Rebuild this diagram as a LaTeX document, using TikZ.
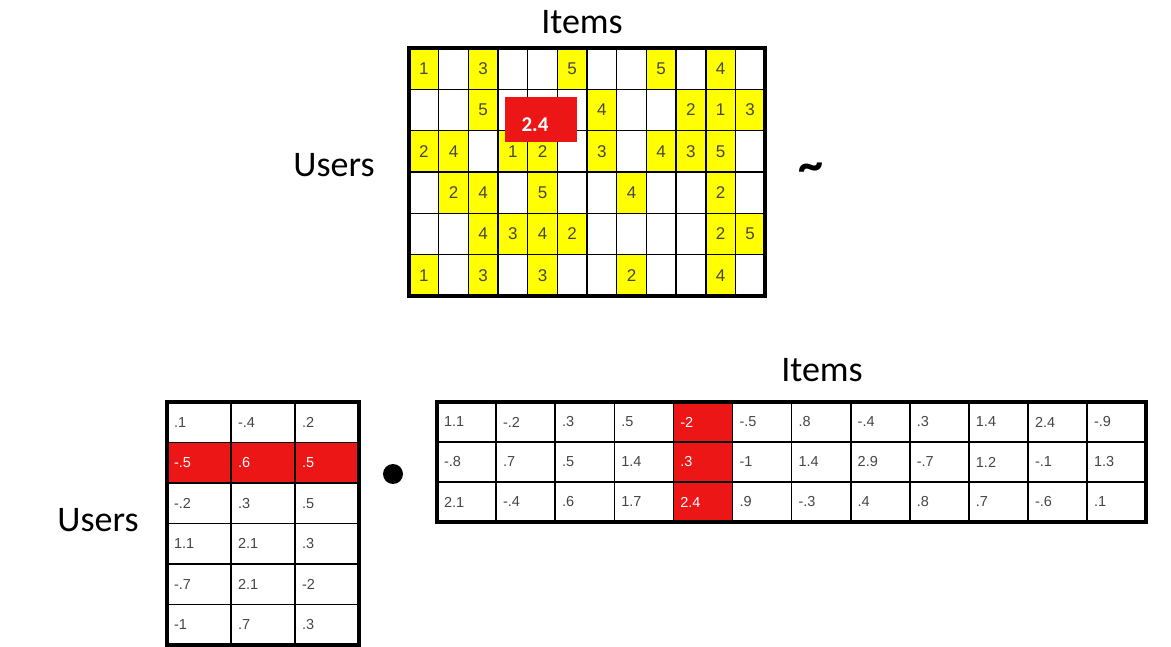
\documentclass[tikz,border=0pt]{standalone}
\usepackage{fontspec}
\setmainfont{Carlito}
\newfontfamily\arialfont{Liberation Sans}
\usetikzlibrary{positioning}
\definecolor{cellYellow}{RGB}{255,255,0}
\definecolor{cellRed}{RGB}{237,22,22}
\definecolor{numGray}{RGB}{70,70,70}
\tikzset{
    headText/.style={font=\fontsize{36}{40}\selectfont, inner sep=0pt},
    ratingCell/.style={rectangle, draw=black, line width=1.6pt, outer sep=0pt,
                  minimum width=29.67pt, minimum height=41.33pt, inner sep=0pt,
                  anchor=north west, fill=white,
                  font=\arialfont\fontsize{17}{20}\selectfont, text=numGray},
    ratingHit/.style={ratingCell, fill=cellYellow},
    predBox/.style={rectangle, fill=cellRed, minimum width=72pt, minimum height=45pt,
                  inner sep=0pt, text height=24pt, text depth=0pt, text=white,
                  font=\bfseries\fontsize{21}{24}\selectfont},
    factorCell/.style={rectangle, draw=black, line width=1.6pt, outer sep=0pt,
                  inner xsep=7pt, inner ysep=0pt, anchor=north west, align=left,
                  font=\arialfont\fontsize{14.5}{17}\selectfont},
    userCell/.style={factorCell, text width=50pt, minimum height=40.5pt},
    itemCell/.style={factorCell, text width=45.1pt, minimum height=40pt},
    frameBox/.style={draw=black, line width=4pt},
    dotSign/.style={circle, fill=black, minimum size=20pt, inner sep=0pt}
}

\begin{document}
\begin{tikzpicture}[x=1pt, y=-1pt]
  \useasboundingbox (0,0) rectangle (1171,647);

  % rating matrix
  \foreach \r in {1,...,6}
    \foreach \c in {1,...,12}
      \node[ratingCell] (T-\r-\c) at ({409+(\c-1)*29.67},{48+(\r-1)*41.33}) {};
  \foreach \r/\c/\v in {1/1/1, 1/3/3, 1/6/5, 1/9/5, 1/11/4,
                        2/3/5, 2/7/4, 2/10/2, 2/11/1, 2/12/3,
                        3/1/2, 3/2/4, 3/4/1, 3/5/2, 3/7/3, 3/9/4, 3/10/3, 3/11/5,
                        4/2/2, 4/3/4, 4/5/5, 4/8/4, 4/11/2,
                        5/3/4, 5/4/3, 5/5/4, 5/6/2, 5/11/2, 5/12/5,
                        6/1/1, 6/3/3, 6/5/3, 6/8/2, 6/11/4}
    \node[ratingHit] (Y-\r-\c) at (T-\r-\c.north west) {\v};
  \draw[frameBox] (T-1-1.north west) rectangle (T-6-12.south east);
  \node[predBox] (pred) at (541,119.5) {2.4\kern12pt};

  \node[headText] (itemsTop) at (582,22) {Items};
  \node[headText] (usersTop) at (334,165) {Users};
  \node[headText, font=\bfseries\fontsize{50}{50}\selectfont] (approx) at (811,172) {\textasciitilde};

  % user factors
  \foreach \vals [count=\r] in {{.1,-.4,.2},{-.5,.6,.5},{-.2,.3,.5},
                                {1.1,2.1,.3},{-.7,2.1,-2},{-1,.7,.3}}
    \foreach \v [count=\c] in \vals {
      \ifnum\r=2 \def\fillc{cellRed}\def\txtc{white}\else\def\fillc{white}\def\txtc{numGray}\fi
      \node[userCell, fill=\fillc, text=\txtc] (U-\r-\c)
        at ({167+(\c-1)*64},{402+(\r-1)*40.5}) {\v};
    }
  \draw[frameBox] (U-1-1.north west) rectangle (U-6-3.south east);

  % item factors
  \foreach \vals [count=\r] in {{1.1,-.2,.3,.5,-2,-.5,.8,-.4,.3,1.4,2.4,-.9},
                                {-.8,.7,.5,1.4,.3,-1,1.4,2.9,-.7,1.2,-.1,1.3},
                                {2.1,-.4,.6,1.7,2.4,.9,-.3,.4,.8,.7,-.6,.1}}
    \foreach \v [count=\c] in \vals {
      \ifnum\c=5 \def\fillc{cellRed}\def\txtc{white}\else\def\fillc{white}\def\txtc{numGray}\fi
      \node[itemCell, fill=\fillc, text=\txtc] (I-\r-\c)
        at ({437+(\c-1)*59.1},{402+(\r-1)*40}) {\v};
    }
  \draw[frameBox] (I-1-1.north west) rectangle (I-3-12.south east);

  \node[dotSign] (dot) at (393,474) {};
  \node[headText] (itemsLow) at (822,370) {Items};
  \node[headText] (usersLow) at (98,520) {Users};
\end{tikzpicture}
\end{document}
